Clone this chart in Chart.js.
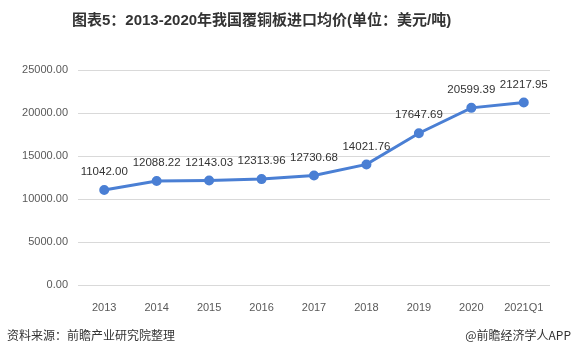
<!DOCTYPE html>
<html><head><meta charset="utf-8">
<script src="https://cdn.jsdelivr.net/npm/chart.js@4"></script>
<style>
html,body{margin:0;padding:0;background:#fff;}
#wrap{position:relative;width:575px;height:357px;overflow:hidden;}
#c{position:absolute;left:0;top:0;}
#title{position:absolute;left:72px;top:8px;font:bold 15px "Liberation Sans","Noto Sans CJK SC",sans-serif;color:#333;white-space:nowrap;}
#src{position:absolute;left:7px;top:326px;font:12px "Noto Sans CJK SC",sans-serif;color:#333;}
#brand{position:absolute;right:4px;top:326px;font:12px "Noto Sans CJK SC",sans-serif;color:#333;}
</style></head><body>
<div id="wrap">
<canvas id="c" width="575" height="357"></canvas>
<div id="title">图表5：2013-2020年我国覆铜板进口均价(单位：美元/吨)</div>
<div id="src">资料来源：前瞻产业研究院整理</div>
<div id="brand">@前瞻经济学人APP</div>
</div>
<script>
const categories = ["2013","2014","2015","2016","2017","2018","2019","2020","2021Q1"];
const prices = [11042.00,12088.22,12143.03,12313.96,12730.68,14021.76,17647.69,20599.39,21217.95];
const yTicks = [0,5000,10000,15000,20000,25000];

const labelPlugin = {
  id:'labels',
  afterDatasetsDraw(chart){
    const ctx = chart.ctx;
    const meta = chart.getDatasetMeta(0);
    ctx.save();
    ctx.font = '11.5px "Liberation Sans", sans-serif';
    ctx.fillStyle = '#333';
    ctx.textAlign = 'center';
    ctx.textBaseline = 'middle';
    meta.data.forEach((pt,i)=>{
      ctx.fillText(prices[i].toFixed(2), pt.x, pt.y - 18);
    });
    ctx.restore();
  }
};

new Chart(document.getElementById('c'), {
  type:'line',
  data:{labels:categories, datasets:[{
    data:prices, borderColor:'#4a7fd4', backgroundColor:'#4a7fd4',
    borderWidth:3, pointRadius:3.5, pointHoverRadius:3.5, tension:0, fill:false
  }]},
  options:{
    responsive:false, animation:false,
    layout:{padding:{left:0,right:25,top:70,bottom:42}},
    plugins:{legend:{display:false},tooltip:{enabled:false}},
    scales:{
      x:{offset:true, grid:{display:false}, border:{display:false},
        ticks:{color:'#595959', font:{family:'Liberation Sans', size:11}, padding:8},
        afterFit(s){s.height=30;}},
      y:{min:0,max:25000, afterBuildTicks(s){s.ticks=yTicks.map(v=>({value:v}));},
        grid:{color:'#d9d9d9', drawTicks:false}, border:{display:false},
        ticks:{color:'#595959', font:{family:'Liberation Sans', size:11}, padding:10,
          callback:v=>Number(v).toFixed(2)},
        afterFit(s){s.width=78;}}
    }
  },
  plugins:[labelPlugin]
});
</script>
</body></html>
